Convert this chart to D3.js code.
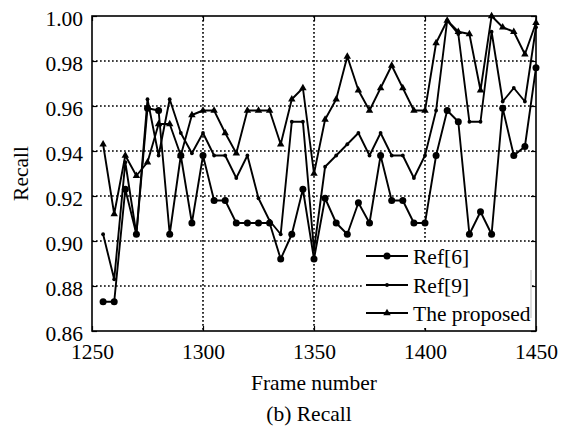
<!DOCTYPE html>
<html>
<head>
<meta charset="utf-8">
<script src="https://cdn.jsdelivr.net/npm/d3@7"></script>
<style>
  body { margin: 0; background: #fff; }
  svg text { font-family: "Liberation Serif", "Times New Roman", serif; fill: #000; }
</style>
</head>
<body>
<script>
// frame numbers on the x axis
const frames = [1255, 1260, 1265, 1270, 1275, 1280, 1285, 1290, 1295, 1300,
                1305, 1310, 1315, 1320, 1325, 1330, 1335, 1340, 1345, 1350,
                1355, 1360, 1365, 1370, 1375, 1380, 1385, 1390, 1395, 1400,
                1405, 1410, 1415, 1420, 1425, 1430, 1435, 1440, 1445, 1450];

// recall values
const ref6 = [0.873, 0.873, 0.923, 0.903, 0.959, 0.958, 0.903, 0.938, 0.908, 0.938,
              0.918, 0.918, 0.908, 0.908, 0.908, 0.908, 0.892, 0.903, 0.923, 0.892,
              0.919, 0.908, 0.903, 0.917, 0.908, 0.938, 0.918, 0.918, 0.908, 0.908,
              0.938, 0.958, 0.953, 0.903, 0.913, 0.903, 0.959, 0.938, 0.942, 0.977];

const ref9 = [0.903, 0.883, 0.935, 0.903, 0.963, 0.938, 0.963, 0.948, 0.939, 0.948,
              0.938, 0.938, 0.928, 0.938, 0.919, 0.909, 0.903, 0.953, 0.953, 0.896,
              0.933, 0.938, 0.943, 0.948, 0.938, 0.948, 0.938, 0.938, 0.928, 0.938,
              0.958, 0.998, 0.992, 0.953, 0.953, 0.993, 0.962, 0.968, 0.962, 0.995];

const proposed = [0.943, 0.912, 0.938, 0.929, 0.935, 0.952, 0.952, 0.938, 0.956, 0.958,
                  0.958, 0.948, 0.939, 0.958, 0.958, 0.958, 0.943, 0.963, 0.968, 0.930,
                  0.954, 0.963, 0.982, 0.967, 0.958, 0.968, 0.978, 0.968, 0.958, 0.958,
                  0.988, 0.998, 0.993, 0.992, 0.967, 1.000, 0.995, 0.993, 0.983, 0.997];

const xTicks = [1250, 1300, 1350, 1400, 1450];
const yTicks = [0.86, 0.88, 0.90, 0.92, 0.94, 0.96, 0.98, 1.00];
const seriesNames = ["Ref[6]", "Ref[9]", "The proposed"];

const W = 568, H = 430;
const pLeft = 92, pRight = 536, pTop = 16, pBottom = 331;
const fs = "21.5px";

const svg = d3.select("body").append("svg")
  .attr("width", W)
  .attr("height", H);

const x = d3.scaleLinear().domain([1250, 1450]).range([pLeft, pRight]);
const y = d3.scaleLinear().domain([0.86, 1.00]).range([pBottom, pTop]);

// dotted grid
svg.selectAll(".gy").data(yTicks.slice(1, -1))
  .enter().append("line")
    .attr("x1", pLeft).attr("x2", pRight)
    .attr("y1", d => y(d)).attr("y2", d => y(d))
    .attr("stroke", "#000").attr("stroke-width", 1.6)
    .attr("stroke-dasharray", "1.7,2.3");

svg.selectAll(".gx").data(xTicks.slice(1, -1))
  .enter().append("line")
    .attr("y1", pTop).attr("y2", pBottom)
    .attr("x1", d => x(d)).attr("x2", d => x(d))
    .attr("stroke", "#000").attr("stroke-width", 1.6)
    .attr("stroke-dasharray", "1.7,2.3");

// axes with inward ticks
function styleAxis(g) {
  g.select(".domain").remove();
  g.selectAll(".tick line").attr("stroke", "#000").attr("stroke-width", 1.2);
  g.selectAll("text").style("font-size", fs).attr("fill", "#000");
}

svg.append("g")
  .attr("transform", `translate(0,${pBottom})`)
  .call(d3.axisBottom(x).tickValues(xTicks).tickSizeInner(-5).tickSizeOuter(0).tickPadding(13).tickFormat(d3.format("d")))
  .call(styleAxis);

svg.append("g")
  .attr("transform", `translate(0,${pTop})`)
  .call(d3.axisTop(x).tickValues(xTicks).tickSizeInner(-5).tickSizeOuter(0).tickFormat(""))
  .call(styleAxis);

svg.append("g")
  .attr("transform", `translate(${pLeft},0)`)
  .call(d3.axisLeft(y).tickValues(yTicks).tickSizeInner(-5).tickSizeOuter(0).tickPadding(9).tickFormat(d3.format(".2f")))
  .call(styleAxis)
  .selectAll("text").attr("dy", "0.42em");

svg.append("g")
  .attr("transform", `translate(${pRight},0)`)
  .call(d3.axisRight(y).tickValues(yTicks).tickSizeInner(-5).tickSizeOuter(0).tickFormat(""))
  .call(styleAxis);

// lines
const line = d3.line()
  .x((d, i) => x(frames[i]))
  .y(d => y(d));

const allSeries = [ref6, ref9, proposed];

svg.selectAll(".series").data(allSeries)
  .enter().append("path")
    .attr("d", line)
    .attr("fill", "none")
    .attr("stroke", "#000")
    .attr("stroke-width", 1.9)
    .attr("stroke-linejoin", "round");

// markers
function drawMarker(g, k, cx, cy) {
  if (k == 0) {
    g.append("circle").attr("cx", cx).attr("cy", cy).attr("r", 3.5).attr("fill", "#000");
  } else if (k == 1) {
    g.append("circle").attr("cx", cx).attr("cy", cy).attr("r", 1.9).attr("fill", "#000");
  } else {
    g.append("path")
      .attr("d", d3.symbol().type(d3.symbolTriangle).size(24)())
      .attr("transform", `translate(${cx},${cy})`)
      .attr("fill", "#000");
  }
}

const marks = svg.append("g");
allSeries.forEach((vals, k) => {
  vals.forEach((v, i) => drawMarker(marks, k, x(frames[i]), y(v)));
});

// legend
const legend = svg.append("g");
legend.append("rect")
  .attr("x", 362).attr("y", 243)
  .attr("width", 170).attr("height", 85)
  .attr("fill", "#fff");
legend.append("line")
  .attr("x1", 531).attr("x2", 531).attr("y1", 270).attr("y2", 318)
  .attr("stroke", "#aaa").attr("stroke-width", 0.8);

const rows = [256, 285, 313];
seriesNames.forEach((name, k) => {
  legend.append("line")
    .attr("x1", 366).attr("x2", 408)
    .attr("y1", rows[k]).attr("y2", rows[k])
    .attr("stroke", "#000").attr("stroke-width", 1.9);
  drawMarker(legend, k, 387, rows[k]);
  legend.append("text")
    .attr("x", 413).attr("y", rows[k])
    .attr("dy", "0.36em")
    .style("font-size", fs)
    .text(name);
});

// frame
svg.append("rect")
  .attr("x", pLeft).attr("y", pTop)
  .attr("width", pRight - pLeft).attr("height", pBottom - pTop)
  .attr("fill", "none")
  .attr("stroke", "#000")
  .attr("stroke-width", 1.6);

// titles
svg.append("text")
  .attr("x", (pLeft + pRight) / 2).attr("y", 390)
  .attr("text-anchor", "middle")
  .style("font-size", fs)
  .text("Frame number");

svg.append("text")
  .attr("transform", `translate(28,${(pTop + pBottom) / 2}) rotate(-90)`)
  .attr("text-anchor", "middle")
  .style("font-size", fs)
  .text("Recall");

svg.append("text")
  .attr("x", 309).attr("y", 421)
  .attr("text-anchor", "middle")
  .style("font-size", fs)
  .text("(b) Recall");
</script>
</body>
</html>
